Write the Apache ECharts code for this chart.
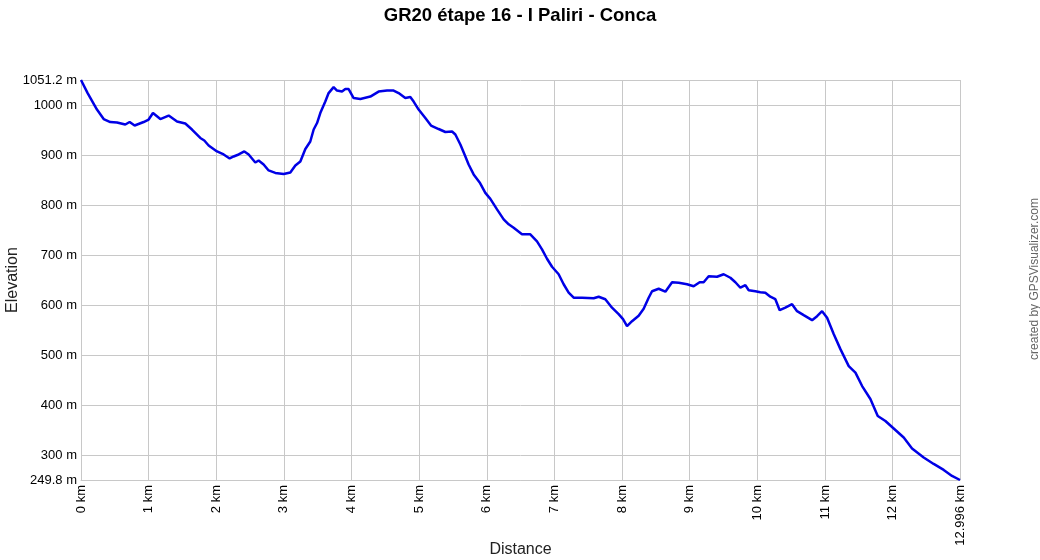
<!DOCTYPE html>
<html><head><meta charset="utf-8">
<script src="https://cdn.jsdelivr.net/npm/echarts@6/dist/echarts.min.js"></script>
<style>html,body{margin:0;padding:0;background:#fff}#c{width:1040px;height:560px}</style>
</head><body><div id="c"></div>
<script>
const titleText = 'GR20 étape 16 - I Paliri - Conca';
const distanceKm = [0,0.098,0.236,0.335,0.433,0.532,0.655,0.719,0.793,0.926,1.0,1.064,1.173,1.296,1.42,1.542,1.641,1.764,1.823,1.887,2.011,2.109,2.198,2.257,2.331,2.415,2.479,2.577,2.626,2.70,2.774,2.873,2.996,3.095,3.169,3.243,3.317,3.39,3.44,3.49,3.538,3.612,3.661,3.735,3.785,3.859,3.908,3.957,4.031,4.13,4.278,4.40,4.525,4.622,4.696,4.795,4.869,4.918,4.992,5.091,5.175,5.288,5.387,5.486,5.535,5.609,5.683,5.731,5.805,5.894,5.978,6.052,6.151,6.249,6.323,6.397,6.52,6.643,6.742,6.816,6.89,6.964,7.062,7.136,7.21,7.284,7.408,7.58,7.654,7.752,7.851,7.949,8.014,8.073,8.147,8.245,8.319,8.393,8.443,8.541,8.64,8.739,8.838,8.96,9.058,9.147,9.206,9.28,9.404,9.502,9.601,9.675,9.749,9.823,9.872,9.971,10.044,10.118,10.192,10.266,10.33,10.414,10.513,10.587,10.685,10.809,10.883,10.957,11.031,11.13,11.228,11.351,11.45,11.549,11.671,11.78,11.893,12.016,12.164,12.287,12.459,12.607,12.755,12.878,12.996];
const elevationM = [1051.2,1025,992,973,967,966,962,967,960,967,972,985,973,980,968,964,952,935,930,920,908,902,894,898,902,908,902,886,890,882,870,865,863,866,880,888,913,928,952,965,985,1008,1025,1037,1030,1028,1033,1033,1015,1013,1018,1028,1030,1030,1025,1015,1017,1008,992,975,960,953,947,948,942,922,898,882,862,846,825,813,792,772,762,755,742,742,728,712,693,677,662,642,625,615,615,614,617,612,595,582,572,558,568,579,593,615,628,633,627,646,645,642,638,646,646,658,657,662,655,646,635,640,630,628,626,625,617,612,590,595,602,588,580,570,578,588,575,542,512,478,465,438,412,378,368,353,335,313,295,282,270,258,249.8];
const yTicks = [249.8,300,400,500,600,700,800,900,1000,1051.2];
const xTicks = [0,1,2,3,4,5,6,7,8,9,10,11,12,12.996];

const font = 'Arial, "Liberation Sans", sans-serif';
const chart = echarts.init(document.getElementById('c'));
chart.setOption({
  animation: false,
  title: { text: titleText, left: 'center', top: 1, textStyle: { fontFamily: font, fontSize: 18.5, fontWeight: 'bold', color: '#000' } },
  grid: { left: 81, right: 80, top: 80, bottom: 80, containLabel: false, outerBoundsMode: 'none' },
  xAxis: {
    type: 'value', min: 0, max: 12.996,
    name: 'Distance', nameLocation: 'middle', nameGap: 62, nameMoveOverlap: false,
    nameTextStyle: { fontFamily: font, fontSize: 16, color: '#222' },
    axisLine: { show: true, lineStyle: { color: '#c8c8c8', width: 1 } },
    axisTick: { show: false, customValues: xTicks },
    axisLabel: { customValues: xTicks, rotate: 90, margin: 5, fontFamily: font, fontSize: 13, color: '#000', formatter: v => v + ' km' },
    splitLine: { show: true, lineStyle: { color: '#c8c8c8', width: 1 } }
  },
  yAxis: {
    type: 'value', min: 249.8, max: 1051.2,
    name: 'Elevation', nameLocation: 'middle', nameGap: 60, nameMoveOverlap: false,
    nameTextStyle: { fontFamily: font, fontSize: 16, color: '#222' },
    axisLine: { show: true, lineStyle: { color: '#c8c8c8', width: 1 } },
    axisTick: { show: false, customValues: yTicks },
    axisLabel: { customValues: yTicks, margin: 4, fontFamily: font, fontSize: 13, color: '#000', formatter: v => v + ' m' },
    splitLine: { show: true, lineStyle: { color: '#c8c8c8', width: 1 } }
  },
  graphic: [{
    type: 'text', x: 1035, y: 279, rotation: Math.PI / 2,
    style: { text: 'created by GPSVisualizer.com', fontFamily: font, fontSize: 12, fill: '#666', align: 'center', verticalAlign: 'middle' }
  }],
  series: [{
    type: 'line', showSymbol: false, symbol: 'none',
    data: distanceKm.map((d, i) => [d, elevationM[i]]),
    lineStyle: { color: '#0000e6', width: 2.5 }
  }]
});
</script></body></html>
